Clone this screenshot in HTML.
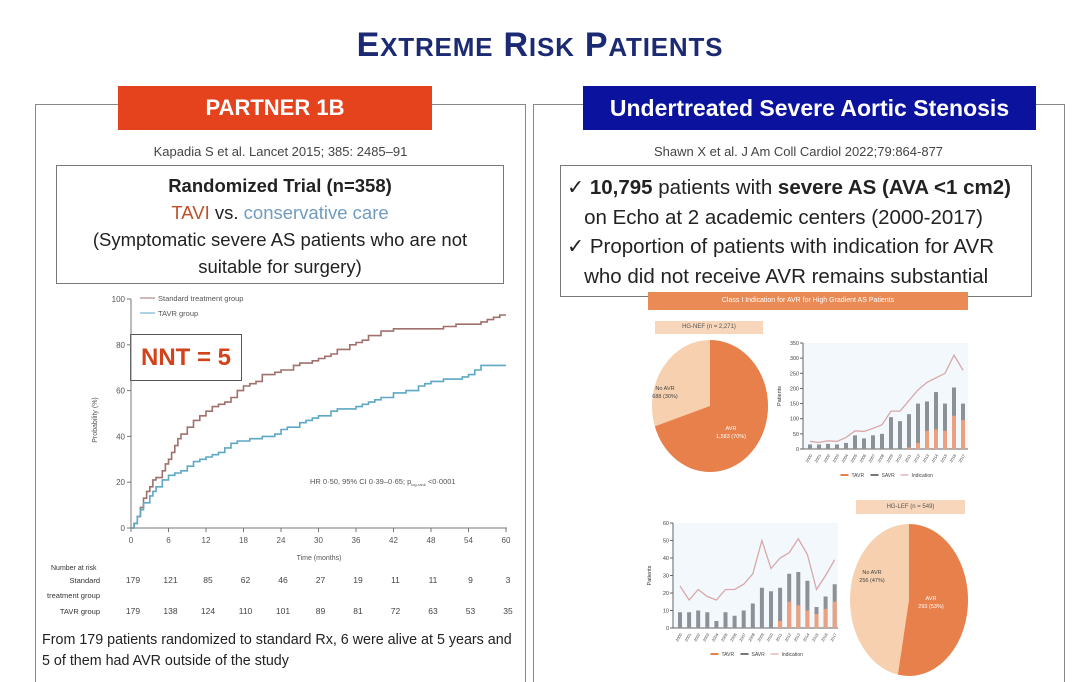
<!DOCTYPE html>
<html><head><meta charset="utf-8"><style>
html,body{margin:0;width:1080px;height:682px;background:#fff;overflow:hidden;font-family:"Liberation Sans",sans-serif;position:relative}
.a{position:absolute}
.c{text-align:center}
</style></head><body>
<div class="a c" style="left:0;top:26px;width:1080px;font-size:34px;font-weight:bold;color:#1b2a72;letter-spacing:0.8px">E<span style="font-size:26px">XTREME</span> R<span style="font-size:26px">ISK</span> P<span style="font-size:26px">ATIENTS</span></div>
<div class="a" style="left:35px;top:104px;width:491px;height:578px;border:1.5px solid #888;border-bottom:none;box-sizing:border-box"></div>
<div class="a" style="left:533px;top:104px;width:532px;height:578px;border:1.5px solid #888;border-bottom:none;box-sizing:border-box"></div>
<div class="a c" style="left:118px;top:86px;width:314px;height:44px;background:#e4431e;color:#fff;font-size:22px;font-weight:bold;line-height:44px">PARTNER 1B</div>
<div class="a c" style="left:583px;top:86px;width:453px;height:44px;background:#0b139e;color:#fff;font-size:23px;font-weight:bold;line-height:44px">Undertreated Severe Aortic Stenosis</div>
<div class="a c" style="left:35px;top:144px;width:491px;font-size:13px;color:#444">Kapadia S et al. Lancet 2015; 385: 2485–91</div>
<div class="a c" style="left:533px;top:144px;width:531px;font-size:13px;color:#444">Shawn X et al. J Am Coll Cardiol 2022;79:864-877</div>
<div class="a c" style="left:56px;top:165px;width:448px;height:119px;border:1.5px solid #777;font-size:18.5px;line-height:27px;color:#222;padding-top:6px;box-sizing:border-box">
<b>Randomized Trial (n=358)</b><br><span style="color:#c0502a">TAVI</span> vs. <span style="color:#6f9cc0">conservative care</span><br>(Symptomatic severe AS patients who are not<br>suitable for surgery)</div>
<div class="a" style="left:560px;top:165px;width:472px;height:132px;border:1.5px solid #777;font-size:20.5px;line-height:29.5px;color:#222;padding:7px 0 0 6px;box-sizing:border-box;white-space:nowrap">
✓ <b>10,795</b> patients with <b>severe AS (AVA &lt;1 cm2)</b><br>&nbsp;&nbsp;&nbsp;on Echo at 2 academic centers (2000-2017)<br>✓ Proportion of patients with indication for AVR<br>&nbsp;&nbsp;&nbsp;who did not receive AVR remains substantial</div>
<div class="a c" style="left:648px;top:292px;width:320px;height:18px;background:#ea8a55;color:#fff;font-size:7px;line-height:18px">Class I Indication for AVR for High Gradient AS Patients</div>
<div class="a c" style="left:655px;top:321px;width:108px;height:13px;background:#f7d6bb;font-size:6px;line-height:13px;color:#555">HG-NEF (n = 2,271)</div>
<div class="a c" style="left:856px;top:500px;width:109px;height:14px;background:#f7d6bb;font-size:6px;line-height:14px;color:#555">HG-LEF (n = 549)</div>
<div class="a" style="left:130px;top:334px;width:110px;height:45px;border:1.5px solid #555;background:#fff;color:#d2431b;font-size:24px;font-weight:bold;line-height:45px;text-align:center">NNT = 5</div>
<div class="a" style="left:42px;top:630px;font-size:14.3px;line-height:21px;color:#222;white-space:nowrap">From 179 patients randomized to standard Rx, 6 were alive at 5 years and<br>5 of them had AVR outside of the study</div>
<svg class="a" style="left:0;top:0" width="1080" height="682" id="s" font-family="Liberation Sans, sans-serif"></svg>
<script>
var s=document.getElementById('s'),h='';
function L(x1,y1,x2,y2,c,w){h+='<line x1="'+x1+'" y1="'+y1+'" x2="'+x2+'" y2="'+y2+'" stroke="'+c+'" stroke-width="'+(w||1)+'"/>';}
function T(x,y,t,sz,a,c,ex){h+='<text x="'+x+'" y="'+y+'" font-size="'+sz+'" text-anchor="'+(a||'start')+'" fill="'+(c||'#555')+'" '+(ex||'')+'>'+t+'</text>';}
var X=function(m){return 131+m*6.25},Y=function(p){return 528-p*2.29};
L(131,299,131,528,'#777');L(131,528,507,528,'#777');
for(var p=0;p<=100;p+=20){L(127,Y(p),131,Y(p),'#777');T(125,Y(p)+3,p,8,'end');}
for(var m=0;m<=60;m+=6){L(X(m),528,X(m),532,'#777');T(X(m),543,m,8,'middle');}
T(319,560,'Time (months)',7,'middle');
T(97,420,'Probability (%)',7,'middle','#555','transform="rotate(-90 97 420)"');
function km(pts,c){var d='M'+X(0)+' '+Y(0);for(var i=1;i<pts.length;i+=2){d+=' H'+X(pts[i-1]).toFixed(1)+' V'+Y(pts[i]).toFixed(1);}d+=' H'+X(60);h+='<path d="'+d+'" fill="none" stroke="'+c+'" stroke-width="1.6"/>';}
km([0.5,2,1,5,1.5,9,2,13,2.5,16,3,18,3.5,21,4,22,5,25,5.5,28,6,30,6.5,33,7,36,7.5,39,8,41,9,44,10,47,11,49,12,51,13,53,14,54,15,55,16,57,17,60,18,62,19,63,20,64,21,67,23,68,24,69,26,71,27,72,29,73,30,74,31,75,32,76,33,78,35,80,36,81,37,82,38,84,40,86,42,87,49,87,50,88,52,89,56,90,57,91,58,92,59,93],'#a0706c');
km([0.5,2,1,5,1.5,8,2,11,3,14,3.5,16,4,18,5,21,6,23,7,24,8,25,9,27,10,29,11,30,12,31,13,32,14,33,15,35,16,37,17,38,19,39,21,40,23,41,24,43,25,44,27,46,28,47,29,48,30,49,32,51,33,52,36,53,37,54,38,55,39,56,40,57,42,59,44,60,46,62,47,63,48,64,50,65,53,66,54,67,55,69,56,71,60,71],'#5da8c4');
L(140,298,155,298,'#a0706c');T(158,301,'Standard treatment group',7.5);
L(140,313,155,313,'#5da8c4');T(158,316,'TAVR group',7.5);
T(310,484,'HR 0·50, 95% CI 0·39–0·65; p<tspan font-size="4" dy="2">log-rank</tspan><tspan dy="-2"> &lt;0·0001</tspan>',7.5);
T(51,570,'Number at risk',7,'start','#333');
T(100,583,'Standard',7.5,'end','#333');T(100,598,'treatment group',7.5,'end','#333');T(100,614,'TAVR group',7.5,'end','#333');
var sr=[179,121,85,62,46,27,19,11,11,9,3],tr=[179,138,124,110,101,89,81,72,63,53,35];
for(var i=0;i<11;i++){T(X(i*6)+2,583,sr[i],8.5,'middle','#444');T(X(i*6)+2,614,tr[i],8.5,'middle','#444');}
function pie(cx,cy,rx,ry,f){var a=f*2*Math.PI,x=cx+rx*Math.sin(a),y=cy-ry*Math.cos(a);
h+='<ellipse cx="'+cx+'" cy="'+cy+'" rx="'+rx+'" ry="'+ry+'" fill="#f6d0af"/>';
h+='<path d="M'+cx+' '+cy+' L'+cx+' '+(cy-ry)+' A'+rx+' '+ry+' 0 '+(f>0.5?1:0)+' 1 '+x+' '+y+' Z" fill="#e8804b"/>';}
pie(710,406,58,66,0.70);pie(909,600,59,76,0.53);
T(665,390,'No AVR',5.5,'middle','#444');T(665,398,'688 (30%)',5.5,'middle','#444');
T(731,430,'AVR',5.5,'middle','#fff');T(731,438,'1,583 (70%)',5.5,'middle','#fff');
T(872,574,'No AVR',5.5,'middle','#444');T(872,582,'256 (47%)',5.5,'middle','#444');
T(931,600,'AVR',5.5,'middle','#fff');T(931,608,'293 (53%)',5.5,'middle','#fff');
function bars(x0,y0,w,ht,max,step,tot,tv,ind,sp){
 h+='<rect x="'+x0+'" y="'+(y0-ht)+'" width="'+w+'" height="'+ht+'" fill="#f3f8fc"/>';
 L(x0,y0-ht,x0,y0,'#666');L(x0,y0,x0+w,y0,'#666');
 for(var v=0;v<=max;v+=step){var yy=y0-v/max*ht;L(x0-3,yy,x0,yy,'#666');T(x0-4,yy+2,v,5.5,'end','#444');}
 var k=ht/max,pts=[];
 for(var i=0;i<18;i++){var bx=x0+5+i*sp;
  h+='<rect x="'+bx+'" y="'+(y0-tot[i]*k)+'" width="4" height="'+tot[i]*k+'" fill="#8c9197"/>';
  if(tv[i])h+='<rect x="'+bx+'" y="'+(y0-tv[i]*k)+'" width="4" height="'+tv[i]*k+'" fill="#eba080"/>';
  pts.push((bx+2)+','+(y0-ind[i]*k));
  T(bx+2,y0+10,2000+i,4,'middle','#444','transform="rotate(-60 '+(bx+2)+' '+(y0+10)+')"');}
 h+='<polyline points="'+pts.join(' ')+'" fill="none" stroke="#d9a8a8" stroke-width="1.3"/>';
 T(x0-22,y0-ht/2,'Patients',5.5,'middle','#333','transform="rotate(-90 '+(x0-22)+' '+(y0-ht/2)+')"');
 var ly=y0+26,lx=x0+w/2-45;
 L(lx,ly,lx+8,ly,'#e8804b',2);T(lx+11,ly+2,'TAVR',5,'start','#444');
 L(lx+30,ly,lx+38,ly,'#777',2);T(lx+41,ly+2,'SAVR',5,'start','#444');
 L(lx+60,ly,lx+68,ly,'#e3b8b8',1.5);T(lx+71,ly+2,'Indication',5,'start','#444');}
bars(803,449,165,106,350,50,[15,15,17,15,20,45,35,45,50,105,92,115,150,157,188,150,203,150],[0,0,0,0,0,0,0,0,0,0,0,5,20,60,65,60,110,95],[25,22,27,25,38,60,58,68,80,125,125,160,195,220,235,250,310,260],9);
bars(673,628,165,105,60,10,[9,9,10,9,4,9,7,10,14,23,21,23,31,32,27,12,18,25],[0,0,0,0,0,0,0,0,0,0,0,4,15,13,10,8,11,15],[24,16,22,18,16,22,22,25,31,50,34,40,43,51,42,22,30,39],9.1);
s.innerHTML=h;
</script>
</body></html>
